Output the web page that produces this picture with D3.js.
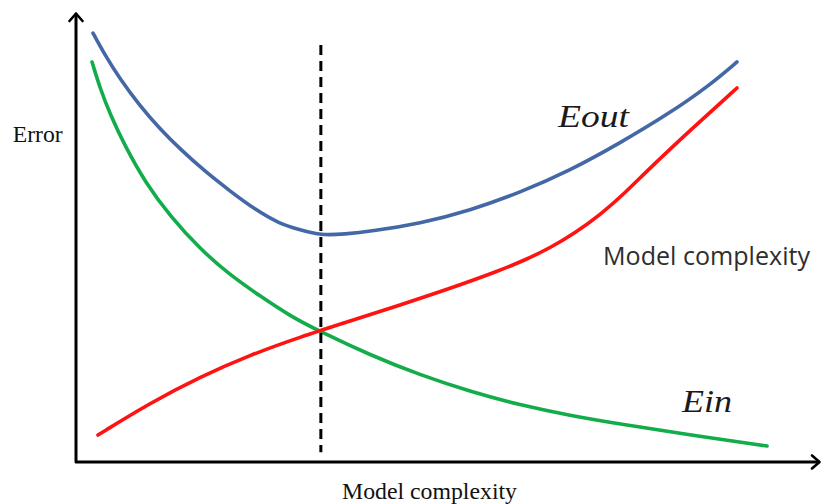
<!DOCTYPE html>
<html>
<head>
<meta charset="utf-8">
<script src="https://cdn.jsdelivr.net/npm/d3@7"></script>
<style>
  body { margin: 0; background: #fff; }
</style>
</head>
<body>
<div id="chart"></div>
<script>
// values (complexity 0-100, error 0-100)
var eoutX = [2.29, 3.91, 5.93, 8.63, 11.32, 14.02, 17.39, 20.75, 24.12, 27.49, 30.19, 33.02, 36.25, 39.62, 46.36, 53.10, 59.84, 66.58, 73.32, 80.05, 85.44, 89.08];
var eoutY = [95.97, 91.05, 85.68, 79.64, 74.50, 70.02, 65.00, 60.63, 56.49, 53.24, 51.95, 50.67, 51.0, 51.57, 53.36, 56.26, 60.29, 65.21, 71.36, 78.08, 84.34, 89.49];

var modelX = [2.96, 9.97, 16.71, 23.45, 30.19, 36.93, 43.67, 50.40, 57.14, 60.51, 63.88, 67.25, 70.62, 73.99, 77.36, 82.75, 89.08];
var modelY = [6.04, 13.20, 19.02, 23.94, 27.96, 31.54, 35.12, 38.81, 42.84, 45.19, 47.87, 51.23, 55.26, 60.18, 65.77, 74.16, 83.67];

var einX = [2.16, 3.23, 4.58, 6.60, 9.30, 12.67, 16.71, 20.75, 24.80, 28.84, 33.02, 39.62, 46.36, 53.10, 59.84, 66.58, 73.32, 81.81, 93.13];
var einY = [89.49, 83.67, 77.85, 70.69, 62.64, 55.03, 47.65, 41.83, 37.14, 32.66, 29.08, 23.94, 19.46, 15.77, 12.75, 10.40, 8.50, 6.26, 3.58];

// the best complexity, marked with the dashed line
var bestX = [33.0, 33.0];
var bestY = [2.2, 93.3];

var w = 821, h = 504;
var color = ['#4468a5', '#ff1212', '#12ad4a'];

var x = d3.scaleLinear().domain([0, 100]).range([76, 818]);
var y = d3.scaleLinear().domain([0, 100]).range([462, 15]);

var svg = d3.select('#chart')
  .append('svg')
  .attr('width', w)
  .attr('height', h);

// open arrow heads for the axes
svg.append('defs')
  .append('marker')
  .attr('id', 'arrow')
  .attr('viewBox', '-10 -8 12 16')
  .attr('refX', 0)
  .attr('refY', 0)
  .attr('markerUnits', 'userSpaceOnUse')
  .attr('markerWidth', 12)
  .attr('markerHeight', 16)
  .attr('orient', 'auto-start-reverse')
  .append('path')
  .attr('d', 'M-7.5,-6.5L0,0L-7.5,6.5')
  .attr('fill', 'none')
  .attr('stroke', '#000')
  .attr('stroke-width', 2.6)
  .attr('stroke-linecap', 'round')
  .attr('stroke-linejoin', 'round');

// axes
svg.append('path')
  .attr('d', d3.line()([[x(0), y(100) - 1.5], [x(0), y(0)], [x(100) + 1.5, y(0)]]))
  .attr('fill', 'none')
  .attr('stroke', '#000')
  .attr('stroke-width', 3)
  .attr('stroke-linejoin', 'round')
  .attr('marker-start', 'url(#arrow)')
  .attr('marker-end', 'url(#arrow)');

var line = d3.line()
  .x(function(d) { return x(d[0]); })
  .y(function(d) { return y(d[1]); })
  .curve(d3.curveBasis);

var series = [d3.zip(einX, einY), d3.zip(modelX, modelY), d3.zip(eoutX, eoutY)];
var seriesColor = [color[2], color[1], color[0]];

svg.selectAll('path.curve')
  .data(series)
  .enter()
  .append('path')
  .attr('class', 'curve')
  .attr('d', line)
  .attr('fill', 'none')
  .attr('stroke', function(d, i) { return seriesColor[i]; })
  .attr('stroke-width', 3.6)
  .attr('stroke-linecap', 'round');

// dashed marker line
svg.append('path')
  .attr('d', d3.line()([[x(bestX[0]), y(bestY[1])], [x(bestX[1]), y(bestY[0])]]))
  .attr('stroke', '#000')
  .attr('stroke-width', 3)
  .attr('stroke-dasharray', '10,6');

// labels
function label(txt, px, py, font, size, len, opts) {
  opts = opts || {};
  svg.append('text')
    .text(txt)
    .attr('x', px)
    .attr('y', py)
    .attr('font-family', font)
    .attr('font-size', size)
    .attr('font-style', opts.italic ? 'italic' : 'normal')
    .attr('fill', opts.fill || '#111')
    .attr('textLength', len)
    .attr('lengthAdjust', 'spacingAndGlyphs');
}

label('Error', 12.7, 142.3, '"Liberation Serif", serif', 23.5, 50);
label('Eout', 558, 127.3, '"Liberation Serif", serif', 32, 71, { italic: true, fill: '#1a1a1a' });
label('Ein', 682, 411.7, '"Liberation Serif", serif', 32, 50, { italic: true, fill: '#1a1a1a' });
label('Model complexity', 603, 265, '"Open Sans", sans-serif', 25, 207, { fill: '#2e2e2e' });
label('Model complexity', 342, 499, '"Liberation Serif", serif', 23.5, 175);
</script>
</body>
</html>
